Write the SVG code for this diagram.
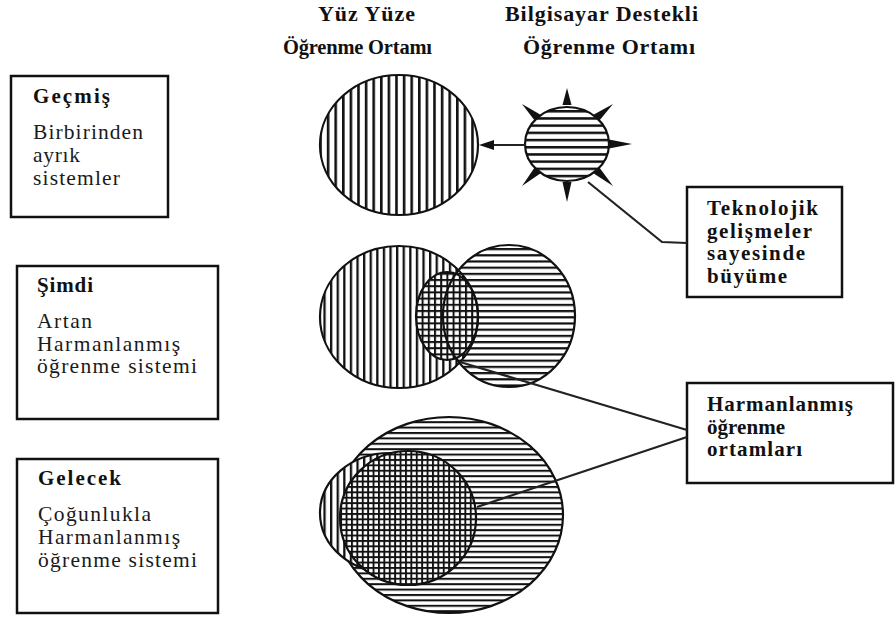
<svg xmlns="http://www.w3.org/2000/svg" width="896" height="619" viewBox="0 0 896 619">
  <style>
    .box { fill: #ffffff; stroke: #111111; stroke-width: 2.5; }
    .hdr { font-family: "Liberation Serif", "Times New Roman", serif; font-weight: bold; font-size: 22px; fill: #111111; }
    .ttl { font-family: "Liberation Serif", "Times New Roman", serif; font-weight: bold; font-size: 21px; fill: #111111; }
    .txt { font-family: "Liberation Serif", "Times New Roman", serif; font-size: 21.5px; fill: #1a1a1a; }
    .rim { fill: none; stroke: #111111; stroke-width: 2.2; }
    .wire { fill: none; stroke: #222222; stroke-width: 2.2; }
    .spike { fill: #111111; }
  </style>
  <defs>
    <!-- vertical stripes -->
    <pattern id="v8" patternUnits="userSpaceOnUse" width="7.6" height="10">
      <rect width="7.6" height="10" fill="#ffffff"/>
      <rect x="0" width="2.6" height="10" fill="#111111"/>
    </pattern>
    <pattern id="v6" patternUnits="userSpaceOnUse" width="6.6" height="10">
      <rect width="6.6" height="10" fill="#ffffff"/>
      <rect x="0" width="2.3" height="10" fill="#111111"/>
    </pattern>
    <!-- horizontal stripes -->
    <pattern id="h7" patternUnits="userSpaceOnUse" width="10" height="7.2" y="2">
      <rect width="10" height="7.2" fill="#ffffff"/>
      <rect y="0" width="10" height="2.5" fill="#111111"/>
    </pattern>
    <pattern id="h6" patternUnits="userSpaceOnUse" width="10" height="6.2">
      <rect width="10" height="6.2" fill="#ffffff"/>
      <rect y="0" width="10" height="2.2" fill="#111111"/>
    </pattern>
    <pattern id="h6o" patternUnits="userSpaceOnUse" width="10" height="6.2">
      <rect y="0" width="10" height="2.2" fill="#111111"/>
    </pattern>
    <pattern id="h5" patternUnits="userSpaceOnUse" width="10" height="5.4">
      <rect width="10" height="5.4" fill="#ffffff"/>
      <rect y="0" width="10" height="2" fill="#111111"/>
    </pattern>
    <!-- cross-hatch grids -->
    <pattern id="x5" patternUnits="userSpaceOnUse" width="5.4" height="5.4">
      <rect width="5.4" height="5.4" fill="#ffffff"/>
      <rect x="0" width="1.9" height="5.4" fill="#111111"/>
      <rect y="0" width="5.4" height="1.9" fill="#111111"/>
    </pattern>
    <pattern id="x6" patternUnits="userSpaceOnUse" width="6.2" height="6.2">
      <rect width="6.2" height="6.2" fill="#ffffff"/>
      <rect x="0" width="2" height="6.2" fill="#111111"/>
      <rect y="0" width="6.2" height="2" fill="#111111"/>
    </pattern>
    <clipPath id="nowLeft">
      <ellipse cx="399" cy="317" rx="79" ry="71"/>
    </clipPath>
  </defs>

  <!-- column headings -->
  <g id="headings">
    <text class="hdr" x="318" y="21" textLength="97" lengthAdjust="spacing">Yüz Yüze</text>
    <text class="hdr" x="283" y="54" textLength="149" lengthAdjust="spacing" style="font-size:20.5px">Öğrenme Ortamı</text>
    <text class="hdr" x="505" y="21" textLength="193" lengthAdjust="spacing">Bilgisayar Destekli</text>
    <text class="hdr" x="523" y="54" textLength="172" lengthAdjust="spacing">Öğrenme Ortamı</text>
  </g>

  <!-- row labels -->
  <g id="past">
    <rect class="box" x="11" y="76" width="157" height="141"/>
    <text class="ttl" x="33" y="103" textLength="77" lengthAdjust="spacing">Geçmiş</text>
    <text class="txt" x="33" y="139" textLength="110" lengthAdjust="spacing">Birbirinden</text>
    <text class="txt" x="33" y="162" textLength="47" lengthAdjust="spacing">ayrık</text>
    <text class="txt" x="33" y="185" textLength="87" lengthAdjust="spacing">sistemler</text>
  </g>
  <g id="present">
    <rect class="box" x="17" y="266" width="201" height="153"/>
    <text class="ttl" x="37" y="292" textLength="56" lengthAdjust="spacing">Şimdi</text>
    <text class="txt" x="37" y="328" textLength="55" lengthAdjust="spacing">Artan</text>
    <text class="txt" x="37" y="351" textLength="143" lengthAdjust="spacing">Harmanlanmış</text>
    <text class="txt" x="37" y="373" textLength="160" lengthAdjust="spacing">öğrenme sistemi</text>
  </g>
  <g id="future">
    <rect class="box" x="17" y="459" width="201" height="154"/>
    <text class="ttl" x="38" y="485" textLength="83" lengthAdjust="spacing">Gelecek</text>
    <text class="txt" x="38" y="521" textLength="113" lengthAdjust="spacing">Çoğunlukla</text>
    <text class="txt" x="38" y="544" textLength="142" lengthAdjust="spacing">Harmanlanmış</text>
    <text class="txt" x="38" y="567" textLength="159" lengthAdjust="spacing">öğrenme sistemi</text>
  </g>

  <!-- past: separate face-to-face and computer-supported circles -->
  <g id="past-f2f">
    <ellipse cx="399" cy="145" rx="79" ry="70" fill="url(#v8)"/>
    <ellipse class="rim" cx="399" cy="145" rx="79" ry="70"/>
  </g>
  <g id="past-cmc">
    <polygon class="spike" points="562.5,105 571.5,105 567,88"/>
    <polygon class="spike" points="593,115 599,121 613,104"/>
    <polygon class="spike" points="609,139.5 609,148.5 632,144"/>
    <polygon class="spike" points="593,173 599,167 613,186"/>
    <polygon class="spike" points="562.5,182 571.5,182 567,202"/>
    <polygon class="spike" points="535,167 541,173 522,186"/>
    <polygon class="spike" points="535,121 541,115 522,104"/>
    <ellipse cx="567" cy="144" rx="42" ry="37" fill="url(#h7)"/>
    <ellipse class="rim" cx="567" cy="144" rx="42" ry="37"/>
  </g>

  <!-- present: overlapping circles -->
  <g id="present-blend">
    <ellipse cx="509" cy="316" rx="66" ry="71" fill="url(#h6)"/>
    <ellipse cx="399" cy="317" rx="79" ry="71" fill="url(#v6)"/>
    <ellipse cx="509" cy="316" rx="66" ry="71" fill="url(#h6o)" clip-path="url(#nowLeft)"/>
    <ellipse cx="447" cy="316" rx="31" ry="44" fill="url(#x6)"/>
    <ellipse class="rim" cx="447" cy="316" rx="31" ry="44"/>
    <ellipse class="rim" cx="399" cy="317" rx="79" ry="71"/>
    <ellipse class="rim" cx="509" cy="316" rx="66" ry="71"/>
  </g>

  <!-- future: blended area dominates -->
  <g id="future-blend">
    <ellipse cx="449" cy="515" rx="114" ry="98" fill="url(#h5)"/>
    <ellipse class="rim" cx="449" cy="515" rx="114" ry="98"/>
    <ellipse cx="390" cy="513" rx="70" ry="60" fill="url(#v6)"/>
    <ellipse class="rim" cx="390" cy="513" rx="70" ry="60"/>
    <ellipse cx="408" cy="518" rx="68" ry="67" fill="url(#x5)"/>
    <ellipse class="rim" cx="408" cy="518" rx="68" ry="67"/>
  </g>

  <!-- callout boxes -->
  <g id="growth">
    <rect class="box" x="687" y="187" width="155" height="110"/>
    <text class="ttl" x="707" y="215" textLength="111" lengthAdjust="spacing">Teknolojik</text>
    <text class="ttl" x="707" y="238" textLength="105" lengthAdjust="spacing">gelişmeler</text>
    <text class="ttl" x="707" y="260" textLength="98" lengthAdjust="spacing">sayesinde</text>
    <text class="ttl" x="707" y="283" textLength="80" lengthAdjust="spacing">büyüme</text>
  </g>
  <g id="blended">
    <rect class="box" x="687" y="383" width="206" height="100"/>
    <text class="ttl" x="707" y="411" textLength="146" lengthAdjust="spacing">Harmanlanmış</text>
    <text class="ttl" x="707" y="434" textLength="78" lengthAdjust="spacing">öğrenme</text>
    <text class="ttl" x="707" y="456" textLength="95" lengthAdjust="spacing">ortamları</text>
  </g>

  <!-- connectors -->
  <g id="connectors">
    <line class="wire" x1="526" y1="145" x2="490" y2="145"/>
    <polygon class="spike" points="479,145 494,140 494,150"/>
    <polyline class="wire" points="588,182 662,242 687,243"/>
    <line class="wire" x1="460" y1="362" x2="687" y2="430"/>
    <line class="wire" x1="477" y1="507" x2="687" y2="437"/>
  </g>
</svg>
